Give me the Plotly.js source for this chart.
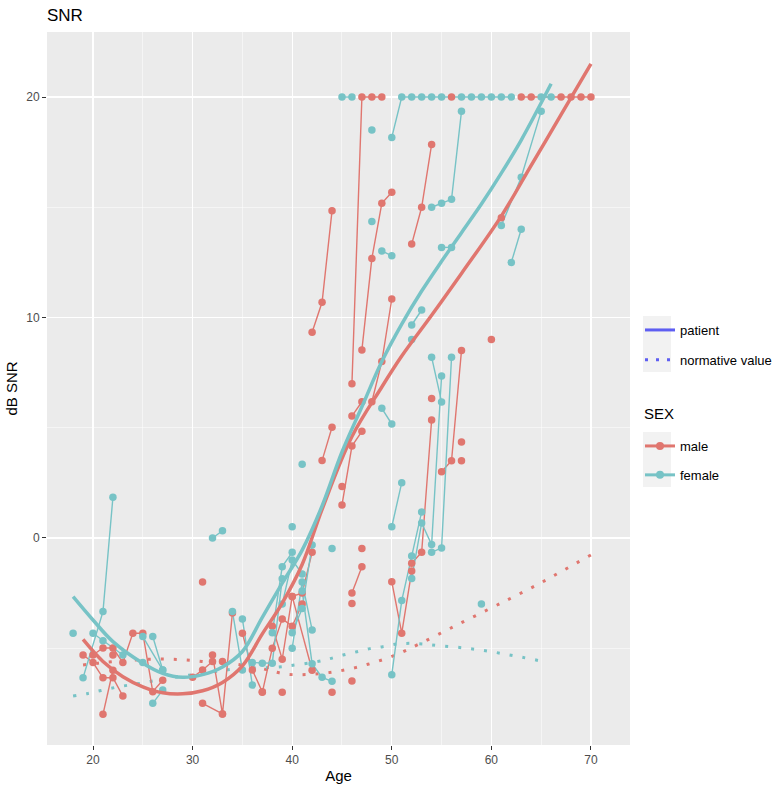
<!DOCTYPE html>
<html>
<head>
<meta charset="utf-8">
<script src="https://cdn.plot.ly/plotly-3.0.1.min.js"></script>
<style>html,body{margin:0;padding:0;background:#fff;}#chart{width:780px;height:789px;}</style>
</head>
<body>
<div id="chart"></div>
<script>
// ---- patient trajectories (age, dB SNR), one inner array per patient ----
const maleAge = [
  [19,20,21,22,23],[20,21,22,23,24,25,26,27],[21,22],[22],
  [30,31,32],[31],[31,33],[32,33,34],[33],
  [35,36,37],[37,38,39,40,41],[38,39,40,41,42],[39],[40,42],[44],
  [42,43,44],[43,44],[45,46,47],[45],[46,47],[48,49,50],
  [46,47,48,49],[47,48,49,50],[46,47],[46],[47],[46],
  [50,51,52],[52,53,54],[54],[52,53,54],[55,56,57],[57],[57],
  [60],[61],[56],[63,64,67,68,69,70]
];
const maleSNR = [
  [-5.31,-5.65,-6.34,-6.34,-7.17],[-5.31,-4.99,-4.99,-5.65,-4.32,-4.32,-6.97,-6.45],[-8.0,-6.0],[-5.31],
  [-6.32,-5.99,-5.6],[-2.0],[-7.5,-7.98],[-5.31,-7.98,-3.4],[-5.6],
  [-4.32,-5.99,-6.98],[-7.0,-5.0,-3.67,-4.0,-3.0],[-4.0,-5.5,-2.65,-2.5,-0.65],[-7.0],[-2.65,-6.0],[-7.0],
  [9.33,10.69,14.84],[3.51,5.02],[1.5,4.17,4.84],[2.33],[5.53,6.18],[6.18,8.0,10.84],
  [7.0,20,20,20],[8.53,12.68,15.18,15.68],[-2.5,-1.3],[-2.97],[-0.48],[-6.49],
  [-1.98,-4.32,-1.5],[-1.15,-0.65,5.35],[6.33],[13.33,15.0,17.85],[3.0,3.5,8.5],[3.5],[4.35],
  [9.0],[14.53],[20],[20,20,20,20,20,20]
];
const femaleAge = [
  [18],[19,21,22],[20,21,23],[25,27],[26,27],[25],[26,27],
  [32,33],[34,35],[35,36],[36,37,38,39],[38,39,40],[39,40,41],[40,41,42],[40,41,42],[40],
  [41,42,43,44],[41],[44],[45,46],[48],[48],[49,50],[49,50],
  [50,51,52,53,54,55,57,58,59,60,61,62],[65,66],[50,51],[50,51,52,53],[52,53,54,55],[54,55,56],[54,55],
  [52],[52,53],[54,55,56,57],[55,56],[59],[61,63,65],[62,63]
];
const femaleSNR = [
  [-4.32],[-6.34,-3.34,1.85],[-4.32,-4.66,-5.31],[-4.47,-5.99],[-4.47,-5.99],[-5.65],[-7.5,-6.9],
  [0.0,0.33],[-3.34,-5.99],[-3.67,-6.67],[-5.65,-5.68,-5.68,-1.85],[-4.3,-1.3,-0.65],[-3.0,-1.0,-1.63],[-4.3,-3.2,-0.32],[-5.0,-2.0,-4.17],[0.51],
  [-2.4,-5.7,-6.32,-6.5],[3.34],[-0.48],[20,20],[18.5],[14.35],[13.02,12.8],[5.88,5.17],
  [18.17,20,20,20,20,20,20,20,20,20,20,20],[20,20],[0.51,2.51],[-6.2,-2.84,-0.82,1.18],[-1.84,0.68,-0.3,7.35],[-0.65,-0.45,8.2],[8.2,6.17],
  [9.0],[9.66,10.34],[15.0,15.18,15.36,19.35],[13.18,13.18],[-2.99],[14.17,16.36,19.35],[12.5,14.0]
];
// ---- smoothed patient curves ----
const maleFitAge = [19,21,23,25,27,29,31,33,35,37,39,41,43,46,49,51,54,57,61,64,67,70];
const maleFit = [-4.6,-5.6,-6.29,-6.75,-7.02,-7.07,-6.93,-6.55,-5.8,-4.35,-2.95,-1.2,1.3,4.6,6.85,8.25,10.1,12.0,14.6,16.9,19.2,21.5];
const femaleFitAge = [18,20,22,25,27,29,31,33,35,37,39,41,43,45,47,49,51,53,55,57,59,61,63,66];
const femaleFit = [-2.66,-3.72,-4.7,-5.68,-6.14,-6.32,-6.2,-5.85,-5.15,-3.6,-2.05,-0.55,1.45,3.9,5.95,8.0,9.7,11.2,12.55,13.85,15.15,16.55,18.05,20.6];
// ---- normative values ----
const maleNormAge = [19,20.5,22,24.6,27.3,30,32.7,34.1,36.8,39.5,42.2,44.9,47.6,50.2,52.7,56.3,60,62.4,64.9,67.3,70];
const maleNorm = [-5.76,-5.68,-5.61,-5.52,-5.49,-5.56,-5.68,-5.71,-5.91,-6.18,-6.17,-6.02,-5.73,-5.34,-4.82,-4.0,-3.17,-2.63,-2.05,-1.45,-0.77];
const femaleNormAge = [18,19.5,20.8,22.2,23.5,24.9,26.2,27.6,30,32.9,34.3,38.4,39.8,42.5,43.8,45.1,46.5,47.8,49.1,50.5,51.8,53.2,54.6,57.3,60,62.6,65.3];
const femaleNorm = [-7.17,-7.05,-6.92,-6.78,-6.68,-6.58,-6.47,-6.36,-6.2,-6.02,-5.94,-5.86,-5.79,-5.61,-5.47,-5.31,-5.16,-5.02,-4.93,-4.81,-4.78,-4.81,-4.88,-4.99,-5.16,-5.37,-5.61];
// ---- labels ----
const sexLabels = ['male','female'];
const sexTitle = 'SEX';
const lineTypeLabels = ['patient','normative value'];
const xTicks = [20,30,40,50,60,70];
const yTicks = [0,10,20];

const RED = '#E0766F', CYAN = '#77C3C6', BLUE = '#5E5EF2';
const FONT = 'Liberation Sans, Arial, Helvetica, sans-serif';

function flat(ages, vals){
  const x=[], y=[];
  ages.forEach((g,i)=>{ g.forEach((a,j)=>{ x.push(a); y.push(vals[i][j]); }); x.push(null); y.push(null); });
  return {x, y};
}
const m = flat(maleAge, maleSNR), f = flat(femaleAge, femaleSNR);

const traces = [
  {x: maleNormAge, y: maleNorm, mode:'lines', line:{color:RED, width:3, dash:'3px,10px', shape:'spline'}, showlegend:false, hoverinfo:'skip'},
  {x: femaleNormAge, y: femaleNorm, mode:'lines', line:{color:CYAN, width:3, dash:'3px,10px', shape:'spline'}, showlegend:false, hoverinfo:'skip'},
  {x: m.x, y: m.y, mode:'lines', line:{color:RED, width:1.4}, connectgaps:false, showlegend:false},
  {x: f.x, y: f.y, mode:'lines', line:{color:CYAN, width:1.4}, connectgaps:false, showlegend:false},
  {x: m.x, y: m.y, mode:'markers', marker:{color:RED, size:7.5}, showlegend:false},
  {x: f.x, y: f.y, mode:'markers', marker:{color:CYAN, size:7.5}, showlegend:false},
  {x: maleFitAge, y: maleFit, mode:'lines', line:{color:RED, width:3.5, shape:'spline', smoothing:1.0}, showlegend:false},
  {x: femaleFitAge, y: femaleFit, mode:'lines', line:{color:CYAN, width:3.5, shape:'spline', smoothing:1.0}, showlegend:false},
  // legend entries
  {x:[null], y:[null], name: lineTypeLabels[0], mode:'lines', line:{color:BLUE, width:3}, legend:'legend', legendgroup:'a'},
  {x:[null], y:[null], name: lineTypeLabels[1], mode:'lines', line:{color:BLUE, width:3, dash:'3px,8px'}, legend:'legend', legendgroup:'b'},
  {x:[null], y:[null], name: sexLabels[0], mode:'lines+markers', line:{color:RED, width:3}, marker:{color:RED, size:8}, legend:'legend2', legendgroup:'c'},
  {x:[null], y:[null], name: sexLabels[1], mode:'lines+markers', line:{color:CYAN, width:3}, marker:{color:CYAN, size:8}, legend:'legend2', legendgroup:'d'}
];

const px2x = p => (p-47)/583, px2y = p => (745-p)/713;
const layout = {
  width:780, height:789,
  margin:{l:47, r:150, t:32, b:44, pad:0},
  paper_bgcolor:'#fff', plot_bgcolor:'#EBEBEB',
  font:{family:FONT, color:'#000'},
  title:{text:'SNR', x:0, xref:'paper', xanchor:'left', y:1-15/789, yref:'container', yanchor:'middle', font:{size:17, color:'#000'}},
  xaxis:{range:[15.38,73.92], tickvals:xTicks, ticks:'outside', ticklen:4, tickcolor:'#333', tickwidth:1,
    tickfont:{size:12, color:'#4D4D4D'}, showgrid:true, gridcolor:'#fff', gridwidth:1.1, zeroline:false, showline:false,
    minor:{tickvals:[25,35,45,55,65], showgrid:true, gridcolor:'#fff', gridwidth:0.5, ticks:''},
    title:{text:'Age', font:{size:15, color:'#000'}, standoff:4}},
  yaxis:{range:[-9.39,22.95], tickvals:yTicks, ticks:'outside', ticklen:4, tickcolor:'#333', tickwidth:1,
    tickfont:{size:12, color:'#4D4D4D'}, showgrid:true, gridcolor:'#fff', gridwidth:1.1, zeroline:false, showline:false,
    minor:{tickvals:[-5,5,15], showgrid:true, gridcolor:'#fff', gridwidth:0.5, ticks:''},
    title:{text:'dB SNR', font:{size:15, color:'#000'}, standoff:4}},
  legend:{xref:'container', yref:'container', x:640/780, y:1-315/789, xanchor:'left', yanchor:'top',
    bgcolor:'rgba(0,0,0,0)', font:{size:13, color:'#000'}, traceorder:'grouped', tracegroupgap:10, itemwidth:30},
  legend2:{xref:'container', yref:'container', x:640/780, y:1-431/789, xanchor:'left', yanchor:'top',
    bgcolor:'rgba(0,0,0,0)', font:{size:13, color:'#000'}, traceorder:'grouped', tracegroupgap:9, itemwidth:30},
  annotations:[
    {text: sexTitle, xref:'paper', yref:'paper', x:px2x(642), y:px2y(413), xanchor:'left', yanchor:'middle', showarrow:false, font:{size:15, color:'#000'}}
  ],
  shapes:[
    {type:'rect', xref:'paper', yref:'paper', x0:px2x(643), x1:px2x(671), y0:px2y(372), y1:px2y(316), fillcolor:'#F2F2F2', line:{width:0}, layer:'below'},
    {type:'rect', xref:'paper', yref:'paper', x0:px2x(643), x1:px2x(671), y0:px2y(487), y1:px2y(432), fillcolor:'#F2F2F2', line:{width:0}, layer:'below'}
  ],
  showlegend:true
};
Plotly.newPlot('chart', traces, layout, {displayModeBar:false, staticPlot:true});
</script>
</body>
</html>
